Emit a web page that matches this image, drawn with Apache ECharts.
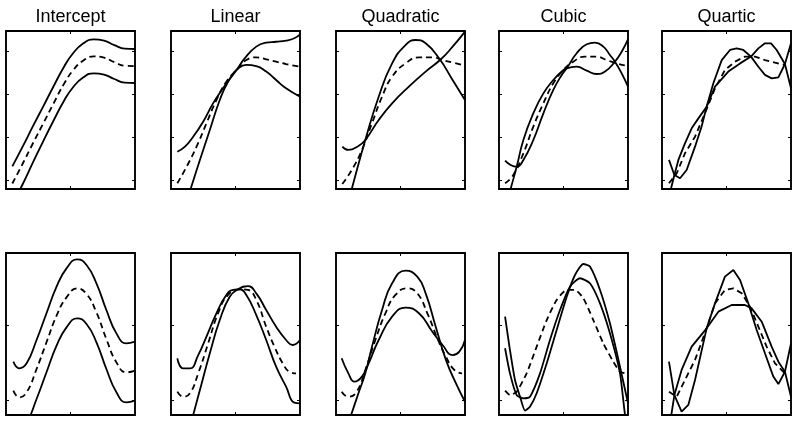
<!DOCTYPE html>
<html>
<head>
<meta charset="utf-8">
<script src="https://cdn.jsdelivr.net/npm/echarts@6/dist/echarts.min.js"></script>
<style>
html,body{margin:0;padding:0;background:#fff;}
#chart{width:800px;height:422px;}
</style>
</head>
<body>
<div id="chart"></div>
<script>
// ---------- DATA (x: 0..100 across panel, y: 0..100 bottom..top) ----------
const titles = ['Intercept', 'Linear', 'Quadratic', 'Cubic', 'Quartic'];
const xTicks = [50];
const topYTicks = [5.7, 32.8, 59.8, 86.9];
const bottomYTicks = [9.3, 55.6];

// Top row
const p1Upper = [[4.9,14.3],[12.9,26.8],[21,39.9],[29,52.5],[37,65.2],[45,77.4],[52,85.9],[60,92.2],[68,94.7],[76,93.9],[84,91.1],[92,88.8],[100,88.6]];
const p1Mid   = [[4.9,3.5],[12.9,16],[21,29.1],[29,41.7],[37,54.4],[45,66.6],[52,75.1],[60,81.4],[68,83.9],[76,83.1],[84,80.3],[92,78],[100,77.8]];
const p1Lower = [[4.9,-10],[12.9,3],[21,17],[29,30.5],[37,43.5],[45,55.9],[52,64.4],[60,70.7],[68,73.2],[76,72.4],[84,69.6],[92,67.3],[100,67.1]];

const p2A   = [[4.9,23.6],[10.8,26.8],[17.2,33.1],[24.9,42.6],[32.6,54.2],[40.3,63.7],[46.8,71.1],[51.2,75.7],[58.4,78.5],[66.1,77.8],[73.8,74.3],[81.5,69],[89.2,63.7],[100,58.4]];
const p2B   = [[4.9,-26],[15.2,0],[22.4,18.4],[30.1,37.3],[37.8,56.3],[44.2,67.9],[51.2,75.7],[57.1,82.7],[66.1,90.1],[73.8,92.6],[81.5,93.2],[89.2,93.9],[95.6,95.4],[100,97.9]];
const p2Mid = [[4.9,3.6],[12.1,14.1],[19.8,26.8],[27.5,41.6],[35.2,56.3],[42.9,67.9],[51.2,75.7],[58.4,81.6],[66.1,83.3],[73.8,82.1],[81.5,80.6],[89.2,79.1],[100,77.4]];

const p3A   = [[4.9,-21.7],[12.2,0],[22.7,31],[33.1,58.4],[43.5,79.5],[53.9,91.1],[61.7,94.3],[69.5,92.2],[79.9,82.7],[90.4,69],[100,56.3]];
const p3B   = [[4.9,26.8],[9.6,24.7],[17.4,27.2],[22.7,31],[33.1,43.7],[43.5,54.2],[56.5,64.8],[69.5,74.3],[81.3,82.1],[90.4,90.1],[100,99.6]];
const p3Mid = [[4.9,3.2],[12.2,12],[20.1,24.7],[27.9,41.6],[35.7,58.4],[43.5,71.1],[53.9,79.5],[64.3,83.3],[74.7,83.3],[82.6,81.6],[90.4,80],[100,78.1]];

const p4A   = [[4.7,17.9],[9,15.2],[13.7,14.1],[18.9,18.4],[26.6,31],[34.4,47.9],[42.1,62.7],[48.6,72.2],[52.5,76.4],[60.2,85.9],[68,91.6],[74.4,92.6],[80.9,90.1],[86,84.8],[89.9,80.6],[95.1,73.2],[100,64.8]];
const p4B   = [[4.7,-13.3],[9,0],[13.7,14.1],[18.9,31],[26.6,47.9],[34.4,60.5],[42.1,69],[48.6,74.3],[52.5,76.4],[60.2,77.4],[68,74.9],[75.7,72.8],[82.2,74.3],[89.9,80.6],[95.1,86.9],[100,94.7]];
const p4Mid = [[4.7,3.6],[11.1,8.9],[18.9,22.6],[26.6,39.5],[34.4,54.2],[42.1,66.9],[49.9,75.3],[57.6,80.6],[66.7,83.8],[75.7,83.8],[83.5,81.6],[91.2,79.5],[100,77.8]];

const p5A   = [[5.4,18.4],[9.6,8.9],[14,6.8],[19.1,12],[25.6,26.8],[30.7,39.5],[34.6,52.1],[39.8,66.9],[46.3,81.6],[52.7,88],[57.9,89],[63,88],[69,83.8],[74.7,77.4],[79.8,72.2],[85,70],[90.2,70.7],[95.3,79.1],[100,92.2]];
const p5B   = [[5.4,-4.9],[9.6,8.9],[12.7,18.4],[17.8,28.9],[23,38.4],[28.2,44.7],[34.6,52.1],[41.1,64.8],[51.4,74.3],[60.5,79.5],[69,83.8],[74.7,89],[79.8,92.2],[84.5,92.2],[88.9,88],[95.3,79.1],[100,63.7]];
const p5Mid = [[5.4,3.6],[11.4,9.9],[17.8,22.6],[25.6,33.1],[33.3,47.9],[41.1,63.7],[48.8,75.3],[56.6,80.6],[64.3,83.8],[72.1,83.8],[79.8,81.6],[87.6,80],[95.3,78.5]];

// Bottom row
const p6Upper = [[5.7,32.9],[10.3,28.8],[16,31.9],[23.7,46.3],[31.4,62.8],[39.2,79.2],[46.9,90.5],[55.2,96.1],[62.4,92.6],[70.1,81.3],[77.8,64.8],[85.6,50.4],[93.3,44.2],[100,45.3]];
const p6Mid   = [[5.7,15],[10.3,10.9],[16,14],[23.7,28.4],[31.4,44.9],[39.2,61.3],[46.9,72.6],[55.2,78.2],[62.4,74.7],[70.1,63.4],[77.8,46.9],[85.6,32.5],[93.3,26.3],[100,27.4]];
const p6Lower = [[5.7,-3.5],[10.3,-7.6],[16,-4.5],[23.7,9.9],[31.4,26.4],[39.2,42.8],[46.9,54.1],[55.2,59.7],[62.4,56.2],[70.1,44.9],[77.8,28.4],[85.6,14],[93.3,7.8],[100,8.9]];

const p7A   = [[4.9,35],[9.5,28.8],[14.7,28.8],[21.1,37],[27.5,48.4],[35.2,62.8],[42.9,74.1],[48.1,77.2],[53.2,77.6],[58.4,74.1],[66.1,61.7],[73.8,46.3],[81.5,29.8],[89.2,17.5],[95.6,7.6],[100,7.2]];
const p7B   = [[4.9,-37],[17.2,0],[22.4,15.4],[30.1,38.1],[37.8,58.6],[45.5,73],[51.9,77.6],[59.6,79.6],[66.1,75.1],[73.8,64.8],[81.5,54.5],[89.2,46.3],[94.3,43.2],[100,46.3]];
const p7Mid = [[4.9,14.4],[9.5,11.3],[14.7,13.4],[21.1,25.7],[28.8,44.2],[36.5,62.8],[44.2,74.1],[53.2,77.6],[59.6,77.2],[66.1,71],[73.8,54.5],[80.2,42.2],[86.6,31.9],[91.8,26.7],[96.9,25.7]];

const p8A   = [[4.9,-15.8],[11.7,0],[17.4,13.4],[22.7,25.7],[27.9,42.2],[35.7,64.8],[43.5,81.3],[53.9,89.1],[63,85.4],[69.5,75.1],[77.3,54.5],[85.2,34],[93,19.5],[100,8.2]];
const p8B   = [[4.4,35],[9.6,25.7],[14.3,20.6],[20.1,23.7],[25.3,31.9],[33.1,46.3],[43.5,60.7],[53.9,66.3],[64.3,62.8],[74.7,51.4],[82.6,43.2],[90.4,37],[95.6,39.1],[100,46.3]];
const p8Mid = [[4.4,14.4],[9.6,11.3],[16.1,14.4],[22.7,27.8],[30.5,46.3],[38.3,62.8],[46.1,74.1],[55.2,78.2],[63,75.1],[70.8,62.8],[78.6,47.3],[85.2,36],[91.7,27.8],[97.7,25.7]];

const p9A   = [[4.7,60.7],[8.5,40.1],[12.4,21.6],[16.3,11.3],[20.2,2.7],[24,5.1],[29.2,13.4],[37,31.9],[44.7,52.5],[52.5,73],[58.9,86.4],[65.4,93.2],[70.5,91.6],[78.3,77.2],[86,56.6],[93.8,29.8],[100,7.2]];
const p9B   = [[4.7,41.2],[8.5,25.7],[13.7,12.3],[18.9,10.3],[24,11.3],[31.8,25.7],[39.5,46.3],[47.3,64.8],[55,79.2],[62.8,84.4],[70.5,81.3],[78.3,68.9],[86,50.4],[93.8,25.7],[97.7,0],[100,-8]];
const p9Mid = [[4.7,15],[8.5,12.3],[13.7,14.4],[21.4,25.7],[29.2,42.2],[37,58.6],[44.7,71],[52.5,77.2],[58.9,77.2],[65.4,72],[73.1,58.6],[80.9,44.2],[88.6,32.9],[93.8,26.7],[97.7,25.7]];

const p10A   = [[5.4,32.9],[9.6,12.3],[15.2,2.1],[20.4,6.2],[25.6,21.6],[34.6,53.5],[41.1,68.9],[48.8,85.4],[55.3,89.5],[60.5,83.3],[66.9,68.9],[73.4,52.5],[79.8,38.1],[86.3,23.7],[90.2,19.1],[95.3,26.7],[100,44.2]];
const p10B   = [[5.4,-9.3],[9.6,12.3],[15.2,27.8],[23,42.2],[34.6,53.5],[43.7,63.8],[54,67.9],[64.3,67.9],[69.5,65.8],[77.3,57.6],[85,42.2],[90.2,32.9],[95.3,26.7],[100,11.3]];
const p10Mid = [[5.4,14.4],[11.4,11.3],[17.8,21.6],[25.6,34],[34.6,53.5],[41.1,68.9],[48.8,77.2],[55.3,78.2],[61.8,75.1],[68.2,66.9],[74.7,54.5],[81.1,42.2],[87.6,31.9],[95.3,25.7]];

const panels = [
  [p1Upper, p1Mid, p1Lower],
  [p2A, p2Mid, p2B],
  [p3A, p3Mid, p3B],
  [p4A, p4Mid, p4B],
  [p5A, p5Mid, p5B],
  [p6Upper, p6Mid, p6Lower],
  [p7A, p7Mid, p7B],
  [p8A, p8Mid, p8B],
  [p9A, p9Mid, p9B],
  [p10A, p10Mid, p10B]
];
const smoothFlags = [true, true, true, true, false, true, true, true, 0.2, false];

// ---------- LAYOUT ----------
const colLefts = [6, 171, 336, 499, 662];
const panelW = 129;
const rowTops = [31, 253];
const rowHeights = [158, 162];

const chart = echarts.init(document.getElementById('chart'), null, {renderer: 'canvas'});
const grids = [], xAxes = [], yAxes = [], series = [], titleComps = [];
const boxLine = {show: true, onZero: false, lineStyle: {color: '#000', width: 1.9}};

for (let p = 0; p < 10; p++) {
  const row = Math.floor(p / 5), col = p % 5;
  grids.push({left: colLefts[col], top: rowTops[row], width: panelW, height: rowHeights[row], containLabel: false});
  const yt = row === 0 ? topYTicks : bottomYTicks;
  ['bottom', 'top'].forEach(pos => {
    xAxes.push({gridIndex: p, type: 'value', min: 0, max: 100, position: pos,
      axisLine: boxLine, axisTick: {show: true, inside: true, length: 3, customValues: xTicks, lineStyle: {color: '#000', width: 1}},
      axisLabel: {show: false}, splitLine: {show: false}});
  });
  ['left', 'right'].forEach(pos => {
    yAxes.push({gridIndex: p, type: 'value', min: 0, max: 100, position: pos,
      axisLine: boxLine, axisTick: {show: true, inside: true, length: 3, customValues: yt, lineStyle: {color: '#000', width: 1}},
      axisLabel: {show: false}, splitLine: {show: false}});
  });
  panels[p].forEach((d, k) => {
    series.push({type: 'line', xAxisIndex: p * 2, yAxisIndex: p * 2, data: d,
      showSymbol: false, symbol: 'none', smooth: smoothFlags[p], clip: true,
      lineStyle: {color: '#000', width: 1.8, type: k === 1 ? [6, 4] : 'solid'},
      silent: true, animation: false});
  });
}
titles.forEach((t, i) => {
  titleComps.push({text: t, left: colLefts[i] + panelW / 2, top: 8, textAlign: 'center', padding: 0,
    textStyle: {fontFamily: 'Liberation Sans, Arial, Helvetica, sans-serif', fontSize: 18, fontWeight: 'normal', color: '#000'}});
});

chart.setOption({
  animation: false,
  backgroundColor: '#fff',
  title: titleComps,
  grid: grids,
  xAxis: xAxes,
  yAxis: yAxes,
  series: series
});
</script>
</body>
</html>
